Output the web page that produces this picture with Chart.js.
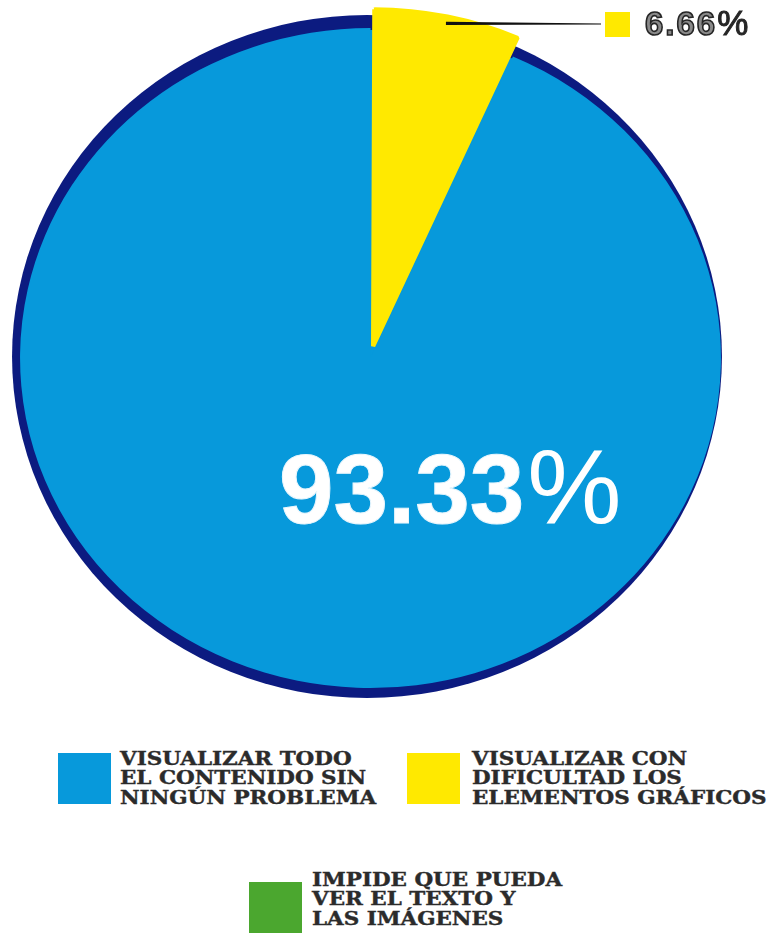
<!DOCTYPE html>
<html lang="es">
<head>
<meta charset="utf-8">
<title>Visualización del contenido</title>
<script src="https://cdn.jsdelivr.net/npm/chart.js@4.4.1/dist/chart.umd.min.js"></script>
<style>
  html, body { margin: 0; padding: 0; background: #fff; }
  body { width: 775px; height: 942px; position: relative; overflow: hidden; }
  #pie { position: absolute; left: 0; top: 0; }

  .big-pct {
    position: absolute; left: 279px; top: 437px;
    font: bold 98px/98px "Liberation Sans", Arial, sans-serif;
    color: #fff; white-space: nowrap;
    -webkit-text-stroke: 1px #e9f6fd;
  }
  .big-pct .sym { font-weight: normal; font-size: 106px; margin-left: 3px; -webkit-text-stroke: 0; }

  .callout { position: absolute; left: 605px; top: 12px; display: flex; align-items: flex-start; }
  .callout .box { width: 25px; height: 25px; }
  .callout .txt {
    margin-left: 15px; margin-top: -6px;
    font: bold 33px/33px "Liberation Sans", Arial, sans-serif;
    letter-spacing: 2px;
    color: #8a8a8a; -webkit-text-stroke: 1.6px #262626; white-space: nowrap;
  }
  .callout .txt .sym { color: #262626; letter-spacing: 0; font-size: 35px; font-weight: normal; -webkit-text-stroke: 1px #262626; }

  .legend-item { position: absolute; display: flex; align-items: flex-start; }
  .legend-item .box { width: 53px; height: 51px; flex: none; }
  .legend-item .lbl {
    font: bold 18.5px/19.3px "DejaVu Serif", serif;
    color: #2b2b2b; white-space: nowrap;
    transform: scaleX(1.16);
    transform-origin: left top;
    -webkit-text-stroke: 0.4px #2b2b2b;
  }
  .legend-item:nth-child(1) { left: 58px; top: 749px; }
  .legend-item:nth-child(1) .box { margin-top: 4px; }
  .legend-item:nth-child(1) .lbl { margin-left: 9px; }
  .legend-item:nth-child(2) { left: 407px; top: 749px; }
  .legend-item:nth-child(2) .box { margin-top: 4px; }
  .legend-item:nth-child(2) .lbl { margin-left: 12px; }
  .legend-item:nth-child(3) { left: 249px; top: 870px; }
  .legend-item:nth-child(3) .box { margin-top: 12px; }
  .legend-item:nth-child(3) .lbl { margin-left: 10px; }
</style>
</head>
<body>
<canvas id="pie" width="775" height="720"></canvas>
<div class="big-pct" id="bigPct"></div>
<div class="callout"><div class="box" id="calloutBox"></div><div class="txt" id="calloutTxt"></div></div>
<div id="legend"></div>

<script>
// categorías (cada una en tres líneas, como en la leyenda)
const labels = [
  ['VISUALIZAR TODO', 'EL CONTENIDO SIN', 'NINGÚN PROBLEMA'],
  ['VISUALIZAR CON', 'DIFICULTAD LOS', 'ELEMENTOS GRÁFICOS'],
  ['IMPIDE QUE PUEDA', 'VER EL TEXTO Y', 'LAS IMÁGENES']
];
const values = [93.33, 6.66, 0];
const colors = ['#0799db', '#ffe900', '#4ba72f'];

const NAVY = '#0c1b80';
const SX = 1.062;      // el disco está algo achatado en vertical
const total = values.reduce((a, b) => a + b, 0);

const pct = v => v.toFixed(2) + '%';
const splitPct = v => { const s = pct(v); return s.slice(0, -1) + '<span class="sym">%</span>'; };

// textos sobre el gráfico
document.getElementById('bigPct').innerHTML = splitPct(values[0]);
document.getElementById('calloutTxt').innerHTML = splitPct(values[1]);
document.getElementById('calloutBox').style.background = colors[1];

// leyenda html
const legend = document.getElementById('legend');
labels.forEach((lines, i) => {
  const item = document.createElement('div');
  item.className = 'legend-item';
  const box = document.createElement('div');
  box.className = 'box';
  box.style.background = colors[i];
  const lbl = document.createElement('div');
  lbl.className = 'lbl';
  lbl.innerHTML = lines.join('<br>');
  item.append(box, lbl);
  legend.appendChild(item);
});

// fondo azul oscuro + escala horizontal + línea guía al 6.66%
const ovalPie = {
  id: 'ovalPie',
  beforeDatasetsDraw(chart) {
    const arc = chart.getDatasetMeta(0).data[0];
    const { x, y, outerRadius: r } = arc;
    const c = chart.ctx;
    c.save();
    c.fillStyle = NAVY;
    c.beginPath();
    c.ellipse(x - 3.5, y - 1.5, r * SX + 4.5, r + 11.5, 0, 0, Math.PI * 2);
    c.fill();
    // tapa el hueco que deja la porción desplazada
    c.fillStyle = arc.options.backgroundColor;
    c.beginPath();
    c.ellipse(x, y, r * SX - 2, r - 2, 0, 0, Math.PI * 2);
    c.fill();
    c.restore();
    c.save();
    c.translate(x, y);
    c.scale(SX, 1);
    c.translate(-x, -y);
  },
  afterDatasetsDraw(chart) {
    const c = chart.ctx;
    c.restore();
    const arc = chart.getDatasetMeta(0).data[1];
    const { x, y, outerRadius: r, startAngle, endAngle } = arc;
    const mid = (startAngle + endAngle) / 2;
    const rr = r + 12;
    const x0 = x + SX * rr * Math.cos(mid);
    const y0 = y + rr * Math.sin(mid);
    const x1 = 601, y1 = 24;
    c.save();
    c.fillStyle = '#111';
    c.beginPath();
    c.moveTo(x0, y0 - 1.6);
    c.lineTo(x1, y1 - 0.5);
    c.lineTo(x1, y1 + 0.5);
    c.lineTo(x0, y0 + 1.6);
    c.closePath();
    c.fill();
    c.restore();
  }
};

new Chart(document.getElementById('pie').getContext('2d'), {
  type: 'pie',
  data: {
    labels: labels.map(l => l.join(' ')),
    datasets: [{
      data: values,
      backgroundColor: colors,
      borderColor: colors,
      borderWidth: [0, 4, 0],
      offset: [0, 48, 0],
      radius: 330
    }]
  },
  options: {
    responsive: false,
    animation: false,
    events: [],
    rotation: values[1] / total * 360,
    layout: { padding: { left: 0, right: 34, top: 0, bottom: 4 } },
    plugins: { legend: { display: false }, tooltip: { enabled: false } }
  },
  plugins: [ovalPie]
});
</script>
</body>
</html>
